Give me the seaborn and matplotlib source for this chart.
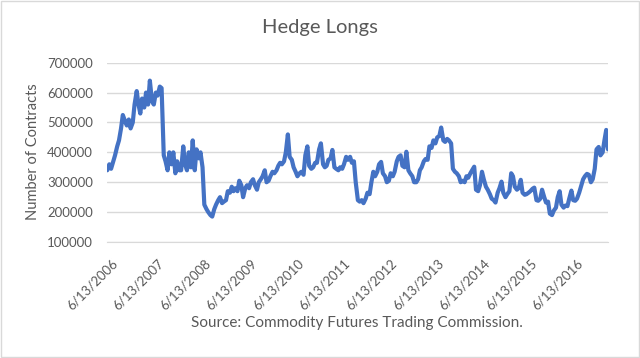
import pandas as pd
import matplotlib
matplotlib.use('Agg')
from matplotlib import pyplot as plt
from matplotlib.patches import Rectangle
import matplotlib.transforms as mtransforms
import seaborn as sns

# hedge long positions, in thousands of contracts,
# two readings a month (15th and 1st) from mid-June 2006
hedge_longs = [
    340, 360, 345, 370, 390, 420, 440, 480, 525, 505, 490, 510, 480, 500,   # 2006
    560, 605, 560, 530, 580, 550, 600, 560, 640, 570, 560, 600,             # 2007 h1
    590, 620, 615, 390, 370, 340, 400, 360, 400, 330, 370, 340,             # 2007 h2
    340, 420, 360, 340, 400, 350, 440, 340, 410, 380, 400, 350,             # 2008 h1
    225, 210, 200, 190, 185, 210, 225, 240, 250, 230, 235, 240,             # 2008 h2
    270, 265, 285, 270, 280, 270, 305, 290, 250, 280, 290, 280,             # 2009 h1
    300, 310, 290, 275, 300, 310, 320, 340, 300, 305, 320, 335,             # 2009 h2
    330, 340, 355, 365, 360, 370, 400, 460, 385, 375, 350, 335,             # 2010 h1
    320, 330, 335, 325, 390, 420, 355, 345, 350, 365, 365, 410,             # 2010 h2
    430, 360, 350, 355, 375, 380, 408, 350, 345, 340, 350, 345,             # 2011 h1
    360, 385, 375, 385, 365, 370, 300, 240, 235, 240, 230, 245,             # 2011 h2
    265, 260, 300, 335, 320, 335, 360, 368, 330, 320, 300, 305,             # 2012 h1
    330, 320, 335, 370, 385, 390, 355, 350, 402, 340, 330, 320,             # 2012 h2
    300, 300, 310, 340, 350, 370, 378, 375, 420, 415, 440, 430,             # 2013 h1
    450, 455, 483, 440, 435, 445, 440, 430, 345, 335, 330, 320,             # 2013 h2
    300, 305, 300, 320, 315, 330, 340, 352, 275, 270, 290, 335,             # 2014 h1
    310, 285, 275, 260, 245, 240, 232, 265, 280, 302, 265, 250,             # 2014 h2
    260, 270, 330, 320, 285, 275, 280, 308, 265, 258, 260, 265,             # 2015 h1
    270, 278, 282, 240, 238, 245, 275, 250, 232, 235, 195, 190,             # 2015 h2
    205, 215, 250, 270, 225, 215, 222, 220, 245, 272, 240, 238,             # 2016 h1
    245, 265, 285, 310, 320, 328, 325, 300, 310, 345, 410, 418,             # 2016 h2
    390, 400, 440, 475, 410,                                                # 2017
]
tick_years = list(range(2006, 2017))
tick_labels = ['6/13/%d' % y for y in tick_years]
y_ticks = [100000, 200000, 300000, 400000, 500000, 600000, 700000]

df = pd.DataFrame({
    'date': pd.date_range('2006-06-15', periods=len(hedge_longs), freq='SMS'),
    'contracts': [v * 1000 for v in hedge_longs],
})

sns.set_style('white')
plt.rcParams['font.family'] = ['Lato', 'DejaVu Sans']
gray = '#595959'

fig = plt.figure(figsize=(6.4, 3.58), dpi=100)
ax = fig.add_axes([107 / 640, 1 - 242 / 358, 501 / 640, 179.3 / 358])

sns.lineplot(data=df, x='date', y='contracts', ax=ax, color='#4472C4',
             linewidth=3, solid_joinstyle='round')

ax.set_xlim(pd.Timestamp('2006-06-13'), df['date'].iloc[-1])
ax.set_ylim(100000, 700000)
ax.set_yticks(y_ticks)
ax.set_yticklabels([str(v) for v in y_ticks])
ax.set_xticks([pd.Timestamp('%d-06-13' % y) for y in tick_years])
ax.set_xticklabels(tick_labels)

ax.grid(axis='y', color='#d9d9d9', linewidth=1)
ax.set_axisbelow(True)
for side in ['top', 'right', 'left']:
    ax.spines[side].set_visible(False)
ax.spines['bottom'].set_color('#d9d9d9')
ax.set_xlabel('')
ax.set_ylabel('')

ax.tick_params(axis='y', length=0, pad=10, labelsize=9.5, labelcolor=gray)
ax.tick_params(axis='x', length=0, pad=11, labelsize=9.5, labelcolor=gray)
shift = mtransforms.ScaledTranslation(4 / 100, 0, fig.dpi_scale_trans)
for lab in ax.get_xticklabels():
    lab.set_rotation(45)
    lab.set_ha('right')
    lab.set_rotation_mode('anchor')
    lab.set_transform(lab.get_transform() + shift)

fig.text(0.5, 1 - 28 / 358, 'Hedge Longs', ha='center', va='center',
         fontsize=14.5, color=gray)
fig.text(33 / 640, 1 - 152 / 358, 'Number of Contracts', rotation=90,
         ha='center', va='center', fontsize=10.5, color=gray)
fig.text(357 / 640, 1 - 323 / 358, 'Source: Commodity Futures Trading Commission.',
         ha='center', va='center', fontsize=11, color=gray)

fig.patches.append(Rectangle((0.001, 0.002), 0.997, 0.995, transform=fig.transFigure,
                             fill=False, edgecolor='#d9d9d9', linewidth=1))

fig.savefig('out.png', dpi=100)
